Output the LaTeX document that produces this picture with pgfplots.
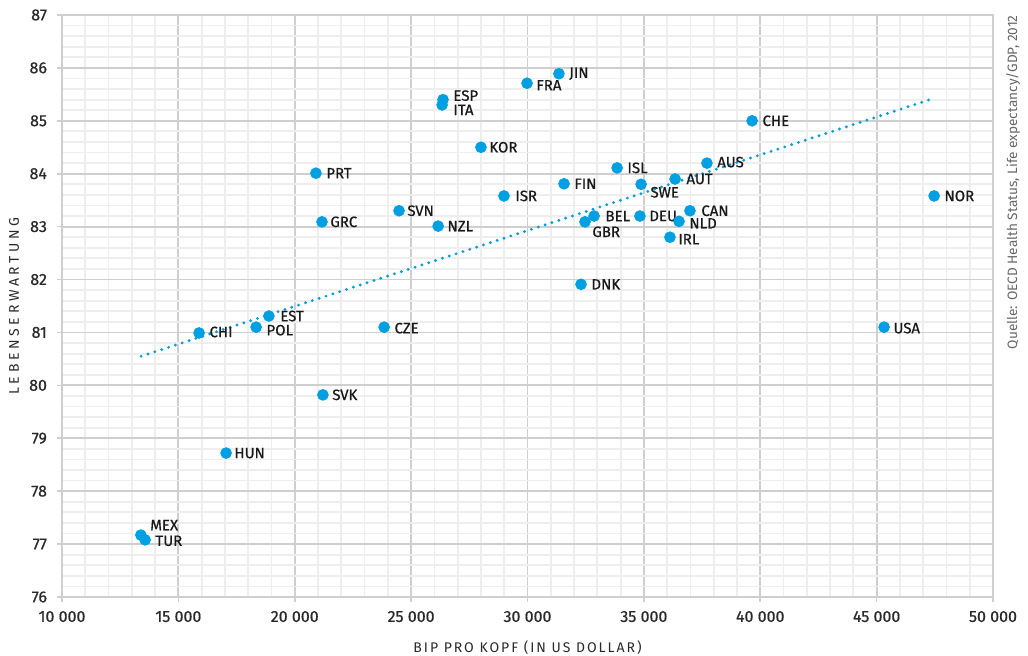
\documentclass[border=0pt]{standalone}
\usepackage{fontspec}
\setmainfont{Fira Sans}
\newfontfamily\medfont{Fira Sans}[FakeBold=0.6]
\newfontfamily\spaced{Fira Sans}[LetterSpace=14]
\newfontfamily\spacedy{Fira Sans}[LetterSpace=26]
\usepackage{pgfplots}
\usepackage{pgfplotstable}
\pgfplotsset{compat=1.18}
\definecolor{ptblue}{HTML}{00A0E3}
\definecolor{majgrid}{HTML}{CFCFCF}
\definecolor{mingrid}{HTML}{EEEEEE}
\definecolor{ticktext}{HTML}{2A2A2A}

\pgfplotstableread{
x y label dx dy
31350 85.89 JIN 5 0
29980 85.71 FRA 4.5 -1
26370 85.40 ESP 5 2
26330 85.30 ITA 5.5 -2.5
28000 84.50 KOR 4 0
20910 84.01 PRT 5 0
39650 85.00 CHE 5 0
33850 84.11 ISL 5 0
37710 84.20 AUS 5 0.5
31570 83.81 FIN 5 0
34880 83.80 SWE 4.5 -4
36340 83.90 AUT 5.5 0
28990 83.58 ISR 5.5 0
47470 83.58 NOR 5 0
24480 83.30 SVN 4 0
21170 83.09 GRC 4 0
26160 83.01 NZL 4.5 0
32860 83.20 BEL 5.5 0
34830 83.20 DEU 4.5 0
36980 83.30 CAN 5.5 0
32470 83.09 GBR 3.5 -5
36510 83.10 NLD 5 -1
36120 82.80 IRL 4 -1
32300 81.91 DNK 5 0
18890 81.31 EST 5.5 0
18340 81.10 POL 5 -1.5
15890 80.99 CHI 5 0.5
23840 81.10 CZE 5 -0.5
45320 81.10 USA 4.5 -0.5
21210 79.82 SVK 4.5 0
17050 78.72 HUN 4 0
13390 77.17 MEX 4.5 5
13570 77.08 TUR 5 -0.5
}\datatable

\pgfplotstableread{
x y
13400 80.55
47500 85.43
}\trendtable

\begin{document}
\begin{tikzpicture}
\useasboundingbox (-31pt,-29.5pt) rectangle (483pt,298.5pt);
\begin{axis}[
  at={(0,0)}, anchor=south west,
  scale only axis,
  width=465.5pt, height=291pt,
  xmin=10000, xmax=50000, ymin=76, ymax=87,
  scaled x ticks=false, scaled y ticks=false,
  xtick={10000,15000,...,50000},
  xticklabels={10 000,15 000,20 000,25 000,30 000,35 000,40 000,45 000,50 000},
  ytick={76,77,...,87},
  minor x tick num=4, minor y tick num=4,
  grid=both,
  major grid style={draw=majgrid, line width=0.9pt},
  minor grid style={draw=mingrid, line width=0.9pt},
  axis line style={draw=majgrid, line width=1pt},
  tick align=outside,
  major tick length=2.5pt, minor tick length=0pt,
  tick style={draw=majgrid, line width=0.8pt},
  xtick pos=bottom, ytick pos=left,
  /pgf/number format/assume math mode=true,
  ticklabel style={font=\medfont\fontsize{8}{9}\selectfont, text=ticktext},
  yticklabel style={xshift=-1.5pt},
  xticklabel style={yshift=-1pt},
  clip=false,
  xlabel={BIP PRO KOPF (IN US DOLLAR)},
  ylabel={LEBENSERWARTUNG},
  every axis x label/.style={at={(axis description cs:0.5,-0.0876)}, anchor=center, font=\spaced\fontsize{7}{8}\selectfont, text=ticktext},
  every axis y label/.style={at={(axis description cs:-0.0516,0.5)}, rotate=90, anchor=center, font=\spacedy\fontsize{7}{8}\selectfont, text=ticktext},
]
\addplot[ptblue, line width=1.6pt, dash pattern=on 0pt off 3.6pt, line cap=round] table[x=x,y=y] {\trendtable};
\addplot[
  only marks, mark=*, color=ptblue, mark size=2.7pt,
  point meta=explicit symbolic,
  visualization depends on={\thisrow{dx}\as\labdx},
  visualization depends on={\thisrow{dy}\as\labdy},
  nodes near coords,
  nodes near coords style={anchor=west, inner sep=0pt, xshift=\labdx pt, yshift=\labdy pt, font=\medfont\fontsize{7.5}{8}\selectfont, text=black!90},
] table[x=x, y=y, meta=label] {\datatable};
\node[rotate=90, anchor=east, inner sep=0pt, font=\fontsize{6.8}{7}\selectfont, text=black!60] at (axis description cs:1.0215,1) {Quelle: OECD Health Status, Life expectancy/GDP, 2012};
\end{axis}
\end{tikzpicture}
\end{document}
